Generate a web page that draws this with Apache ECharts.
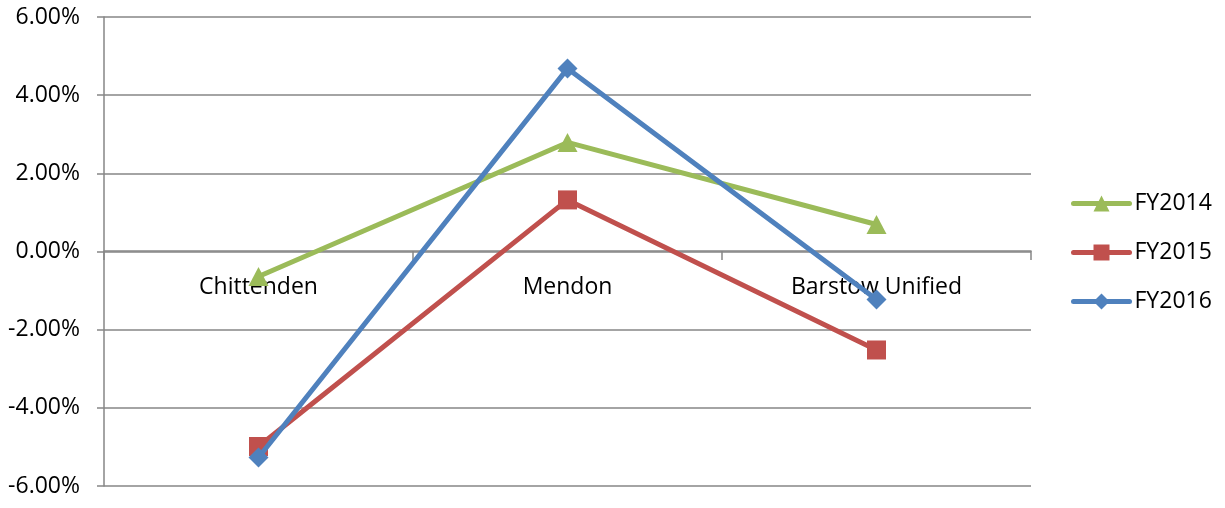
<!DOCTYPE html>
<html><head><meta charset="utf-8">
<script src="https://cdn.jsdelivr.net/npm/echarts@6/dist/echarts.min.js"></script>
<style>html,body{margin:0;padding:0;background:#fff}#c{width:1225px;height:508px}</style>
</head><body><div id="c"></div>
<script>
const categories = ["Chittenden", "Mendon", "Barstow Unified"];
const fy2014 = [-0.64, 2.79, 0.69];
const fy2015 = [-4.99, 1.32, -2.52];
const fy2016 = [-5.27, 4.68, -1.23];
const seriesNames = ["FY2014", "FY2015", "FY2016"];
const yMin = -6, yMax = 6, yStep = 2;
const colors = ["#9BBB59", "#C0504D", "#4F81BD"];
const symbols = ["triangle", "rect", "diamond"];
const symbolSizes = [[20, 19], [19, 19], [20, 20]];
const data = [fy2014, fy2015, fy2016];

const FONT = "'Open Sans', 'Liberation Sans', sans-serif";
const GRID = '#868686';
const chart = echarts.init(document.getElementById('c'), null, {renderer: 'canvas'});
chart.setOption({
  animation: false,
  grid: [
    {left: 104, right: 194, top: 17, bottom: 22, containLabel: false, outerBoundsMode: 'none'},
    {left: 104, right: 194, top: 17, bottom: 257, containLabel: false, outerBoundsMode: 'none'}
  ],
  legend: {
    orient: 'vertical', left: 1066, top: 185, itemGap: 22,
    itemWidth: 56, itemHeight: 20,
    lineStyle: {width: 5, cap: 'round'},
    textStyle: {fontFamily: FONT, fontSize: 23, lineHeight: 27, color: '#000', padding: [0,0,0,0]},
    data: seriesNames
  },
  xAxis: [
    {
      type: 'category', data: categories, boundaryGap: true, gridIndex: 0,
      axisLine: {show: false}, axisTick: {show: false}, axisLabel: {show: false},
      splitLine: {show: false}
    },
    {
      type: 'category', data: categories, boundaryGap: true, gridIndex: 1, position: 'bottom',
      axisLine: {show: true, onZero: false, lineStyle: {color: GRID, width: 1.5}},
      axisTick: {show: true, length: 9, lineStyle: {color: GRID, width: 1.5}},
      axisLabel: {fontFamily: FONT, fontSize: 23, color: '#000', margin: 25},
      splitLine: {show: false}
    }
  ],
  yAxis: [
    {
      type: 'value', min: yMin, max: yMax, interval: yStep, gridIndex: 0,
      axisLine: {show: true, lineStyle: {color: GRID, width: 1.5}},
      axisTick: {show: true, length: 7, lineStyle: {color: GRID, width: 1.5}},
      axisLabel: {fontFamily: FONT, fontSize: 23, color: '#000', margin: 24,
        formatter: v => v.toFixed(2) + '%'},
      splitLine: {show: true, lineStyle: {color: GRID, width: 1.5}}
    },
    {
      type: 'value', min: 0, max: yMax, gridIndex: 1, show: false,
      axisLine: {show: false}, axisTick: {show: false}, axisLabel: {show: false}, splitLine: {show: false}
    }
  ],
  series: seriesNames.map((n, i) => ({
    name: n, type: 'line', data: data[i], xAxisIndex: 0, yAxisIndex: 0,
    symbol: symbols[i], symbolSize: symbolSizes[i],
    showAllSymbol: true,
    lineStyle: {color: colors[i], width: 5},
    itemStyle: {color: colors[i], borderWidth: 0},
    z: 2 + i
  }))
});
</script></body></html>
